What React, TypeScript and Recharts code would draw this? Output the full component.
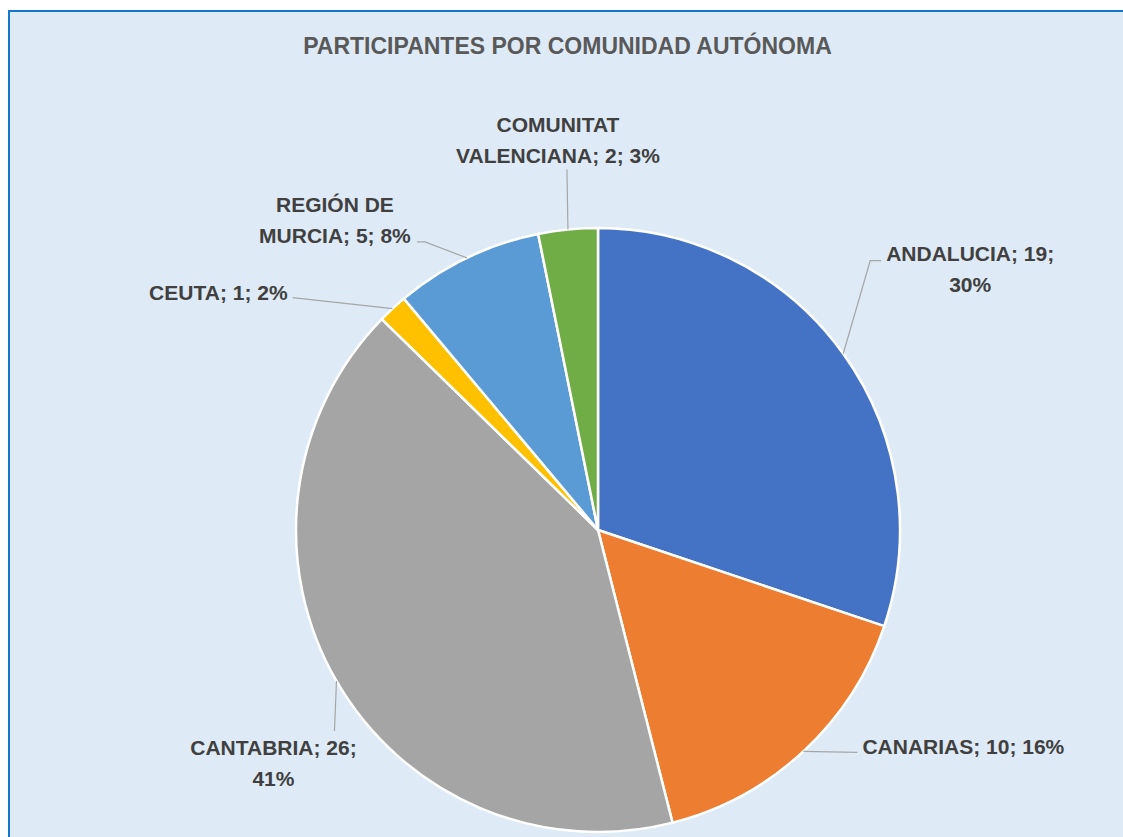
import React from 'react';
import { PieChart, Pie, Cell } from 'recharts';

const chartTitle = 'PARTICIPANTES POR COMUNIDAD AUTÓNOMA';
const regions = ['ANDALUCIA', 'CANARIAS', 'CANTABRIA', 'CEUTA', 'REGIÓN DE MURCIA', 'COMUNITAT VALENCIANA'];
const participants = [19, 10, 26, 1, 5, 2];
const sliceColors = ['#4472C4', '#ED7D31', '#A5A5A5', '#FFC000', '#5B9BD5', '#70AD47'];
// number of words on the first wrapped line of each data label (0 = no wrap)
const labelFirstLineWords = [2, 0, 2, 0, 2, 1];

// Label placement relative to the leader-line anchor (slice mid-angle on the outer edge)
const labelLayout = [
  { line: [[27, -93], [38, -93]], x: 127, y: -100, anchor: 'middle' },
  { line: [[54, 1]], x: 59, y: -5, anchor: 'start' },
  { line: [[-2, 50]], x: -63, y: 66, anchor: 'middle' },
  { line: [[-100, -11]], x: -105, y: -16, anchor: 'end' },
  { line: [[-42, -16], [-50, -16]], x: -132, y: -53, anchor: 'middle' },
  { line: [[-1, -60]], x: -10, y: -105, anchor: 'middle' },
];

const FONT = '"Liberation Sans", Arial, sans-serif';
const LABEL_SIZE = 21;
const LINE_H = 31;

const total = participants.reduce((a, b) => a + b, 0);
const data = regions.map((name, i) => ({ name, value: participants[i] }));

const renderLabel = (props: any) => {
  const { cx, cy, midAngle, outerRadius, index } = props;
  const RAD = Math.PI / 180;
  const ex = cx + outerRadius * Math.cos(-midAngle * RAD);
  const ey = cy + outerRadius * Math.sin(-midAngle * RAD);
  const lay = labelLayout[index];
  const pts = [[ex, ey], ...lay.line.map(([dx, dy]) => [ex + dx, ey + dy])];
  const pct = Math.round((participants[index] / total) * 100);
  const words = `${regions[index]}; ${participants[index]}; ${pct}%`.split(' ');
  const n = labelFirstLineWords[index];
  const lines = n > 0 ? [words.slice(0, n).join(' '), words.slice(n).join(' ')] : [words.join(' ')];
  return (
    <g key={`lbl-${index}`}>
      <polyline
        points={pts.map((p) => p.join(',')).join(' ')}
        fill="none"
        stroke="#A6A6A6"
        strokeWidth={1.2}
      />
      {lines.map((t, k) => (
        <text
          key={k}
          x={ex + lay.x}
          y={ey + lay.y + k * LINE_H + 0.358 * LABEL_SIZE}
          textAnchor={lay.anchor as any}
          fill="#404040"
          fontFamily={FONT}
          fontWeight="bold"
          fontSize={LABEL_SIZE}
        >
          {t}
        </text>
      ))}
    </g>
  );
};

export default function App() {
  return (
    <div style={{ position: 'fixed', left: 0, top: 0, width: 1123, height: 837, overflow: 'hidden' }}>
      <div
        style={{
          position: 'absolute',
          left: 8,
          top: 10,
          right: 0,
          bottom: 0,
          background: '#DEEBF7',
          borderTop: '2px solid #1476CF',
          borderLeft: '2px solid #1476CF',
        }}
      />
      <svg width={1123} height={837} style={{ position: 'absolute', left: 0, top: 0 }}>
        <text
          x={567.5}
          y={54}
          textAnchor="middle"
          fill="#595959"
          fontFamily={FONT}
          fontWeight="bold"
          fontSize={23}
        >
          {chartTitle}
        </text>
      </svg>
      <div style={{ position: 'absolute', left: 0, top: 0 }}>
        <PieChart width={1123} height={837} margin={{ top: 0, right: 0, bottom: 0, left: 0 }}>
          <Pie
            data={data}
            dataKey="value"
            nameKey="name"
            cx={598}
            cy={530}
            outerRadius={302}
            startAngle={90}
            endAngle={-270}
            stroke="#FFFFFF"
            strokeWidth={2.5}
            labelLine={false}
            label={renderLabel}
            isAnimationActive={false}
          >
            {data.map((d, i) => (
              <Cell key={d.name} fill={sliceColors[i]} />
            ))}
          </Pie>
        </PieChart>
      </div>
    </div>
  );
}
